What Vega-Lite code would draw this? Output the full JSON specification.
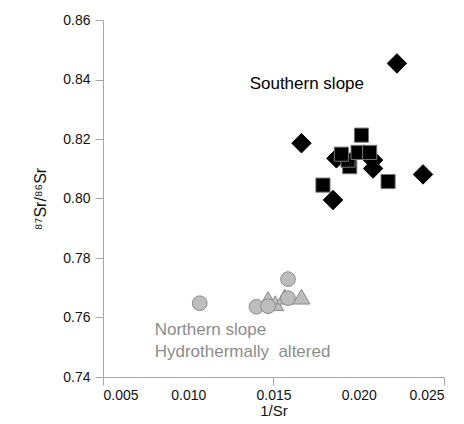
{
  "$schema": "https://vega.github.io/schema/vega-lite/v6.json",
  "width": 341,
  "height": 357,
  "autosize": {"type": "none"},
  "padding": {"left": 103, "top": 20, "right": 20, "bottom": 47},
  "background": "white",
  "config": {
    "view": {"stroke": null},
    "font": "Liberation Sans",
    "axis": {
      "grid": false,
      "domainColor": "#a6a6a6",
      "tickColor": "#a6a6a6",
      "tickSize": 8,
      "labelColor": "#111111",
      "labelFontSize": 14,
      "labelFont": "Liberation Sans",
      "titleFont": "Liberation Sans",
      "titleFontWeight": "normal",
      "titleFontSize": 15,
      "titleColor": "#111111"
    }
  },
  "layer": [
    {
      "data": {
        "values": [
          {"x": 0.01664, "y": 0.8186, "group": "S-diamond"},
          {"x": 0.01849, "y": 0.7995, "group": "S-diamond"},
          {"x": 0.02377, "y": 0.8081, "group": "S-diamond"},
          {"x": 0.02224, "y": 0.8454, "group": "S-diamond"},
          {"x": 0.01869, "y": 0.8135, "group": "S-diamond"},
          {"x": 0.02084, "y": 0.8129, "group": "S-diamond"},
          {"x": 0.02084, "y": 0.8101, "group": "S-diamond"},
          {"x": 0.02016, "y": 0.8213, "group": "S-square"},
          {"x": 0.01947, "y": 0.8107, "group": "S-square"},
          {"x": 0.01937, "y": 0.8129, "group": "S-square"},
          {"x": 0.01898, "y": 0.8149, "group": "S-square"},
          {"x": 0.01996, "y": 0.8155, "group": "S-square"},
          {"x": 0.02064, "y": 0.8155, "group": "S-square"},
          {"x": 0.0179, "y": 0.8045, "group": "S-square"},
          {"x": 0.02172, "y": 0.8057, "group": "S-square"},
          {"x": 0.01468, "y": 0.7662, "group": "N-triangle"},
          {"x": 0.0151, "y": 0.7648, "group": "N-triangle"},
          {"x": 0.01566, "y": 0.7670, "group": "N-triangle"},
          {"x": 0.01664, "y": 0.7670, "group": "N-triangle"},
          {"x": 0.01067, "y": 0.7648, "group": "N-circle"},
          {"x": 0.0140, "y": 0.7636, "group": "N-circle"},
          {"x": 0.01468, "y": 0.7638, "group": "N-circle"},
          {"x": 0.01585, "y": 0.7729, "group": "N-circle"},
          {"x": 0.01585, "y": 0.7665, "group": "N-circle"}
        ]
      },
      "mark": {"type": "point", "filled": true, "opacity": 1, "strokeWidth": 1},
      "encoding": {
        "x": {
          "field": "x", "type": "quantitative", "title": "1/Sr",
          "scale": {"domain": [0.005, 0.025], "nice": false, "zero": false},
          "axis": {
            "values": [0.005, 0.01, 0.015, 0.02, 0.025],
            "format": ".3f",
            "labelPadding": 3,
            "titlePadding": 1,
            "tickOpacity": {"condition": {"test": "round(datum.value*200) % 2 == 1", "value": 1}, "value": 0}
          }
        },
        "y": {
          "field": "y", "type": "quantitative", "title": "⁸⁷Sr/⁸⁶Sr",
          "scale": {"domain": [0.74, 0.86], "nice": false, "zero": false},
          "axis": {
            "values": [0.74, 0.76, 0.78, 0.8, 0.82, 0.84, 0.86],
            "format": ".2f",
            "labelPadding": 5,
            "titlePadding": 14,
            "titleFontSize": 16
          }
        },
        "shape": {
          "field": "group", "type": "nominal", "legend": null,
          "scale": {"domain": ["S-diamond", "S-square", "N-triangle", "N-circle"], "range": ["diamond", "square", "triangle-up", "circle"]}
        },
        "fill": {
          "field": "group", "type": "nominal", "legend": null,
          "scale": {"domain": ["S-diamond", "S-square", "N-triangle", "N-circle"], "range": ["#000000", "#000000", "#bdbdbd", "#bdbdbd"]}
        },
        "stroke": {
          "field": "group", "type": "nominal", "legend": null,
          "scale": {"domain": ["S-diamond", "S-square", "N-triangle", "N-circle"], "range": ["#000000", "#777777", "#8a8a8a", "#8a8a8a"]}
        },
        "size": {
          "field": "group", "type": "nominal", "legend": null,
          "scale": {"type": "ordinal", "domain": ["S-diamond", "S-square", "N-triangle", "N-circle"], "range": [380, 200, 290, 215]}
        }
      }
    },
    {
      "data": {
        "values": [
          {"x": 0.0136, "y": 0.8385, "label": "Southern slope", "group": "S"},
          {"x": 0.00803, "y": 0.7558, "label": "Northern slope", "group": "N"},
          {"x": 0.00803, "y": 0.7485, "label": "Hydrothermally\u00a0 altered", "group": "N"}
        ]
      },
      "mark": {"type": "text", "align": "left", "baseline": "middle", "fontSize": 17, "font": "Liberation Sans"},
      "encoding": {
        "x": {"field": "x", "type": "quantitative"},
        "y": {"field": "y", "type": "quantitative"},
        "text": {"field": "label"},
        "color": {
          "field": "group", "type": "nominal", "legend": null,
          "scale": {"domain": ["S", "N"], "range": ["#000000", "#8c8c8c"]}
        }
      }
    }
  ]
}
